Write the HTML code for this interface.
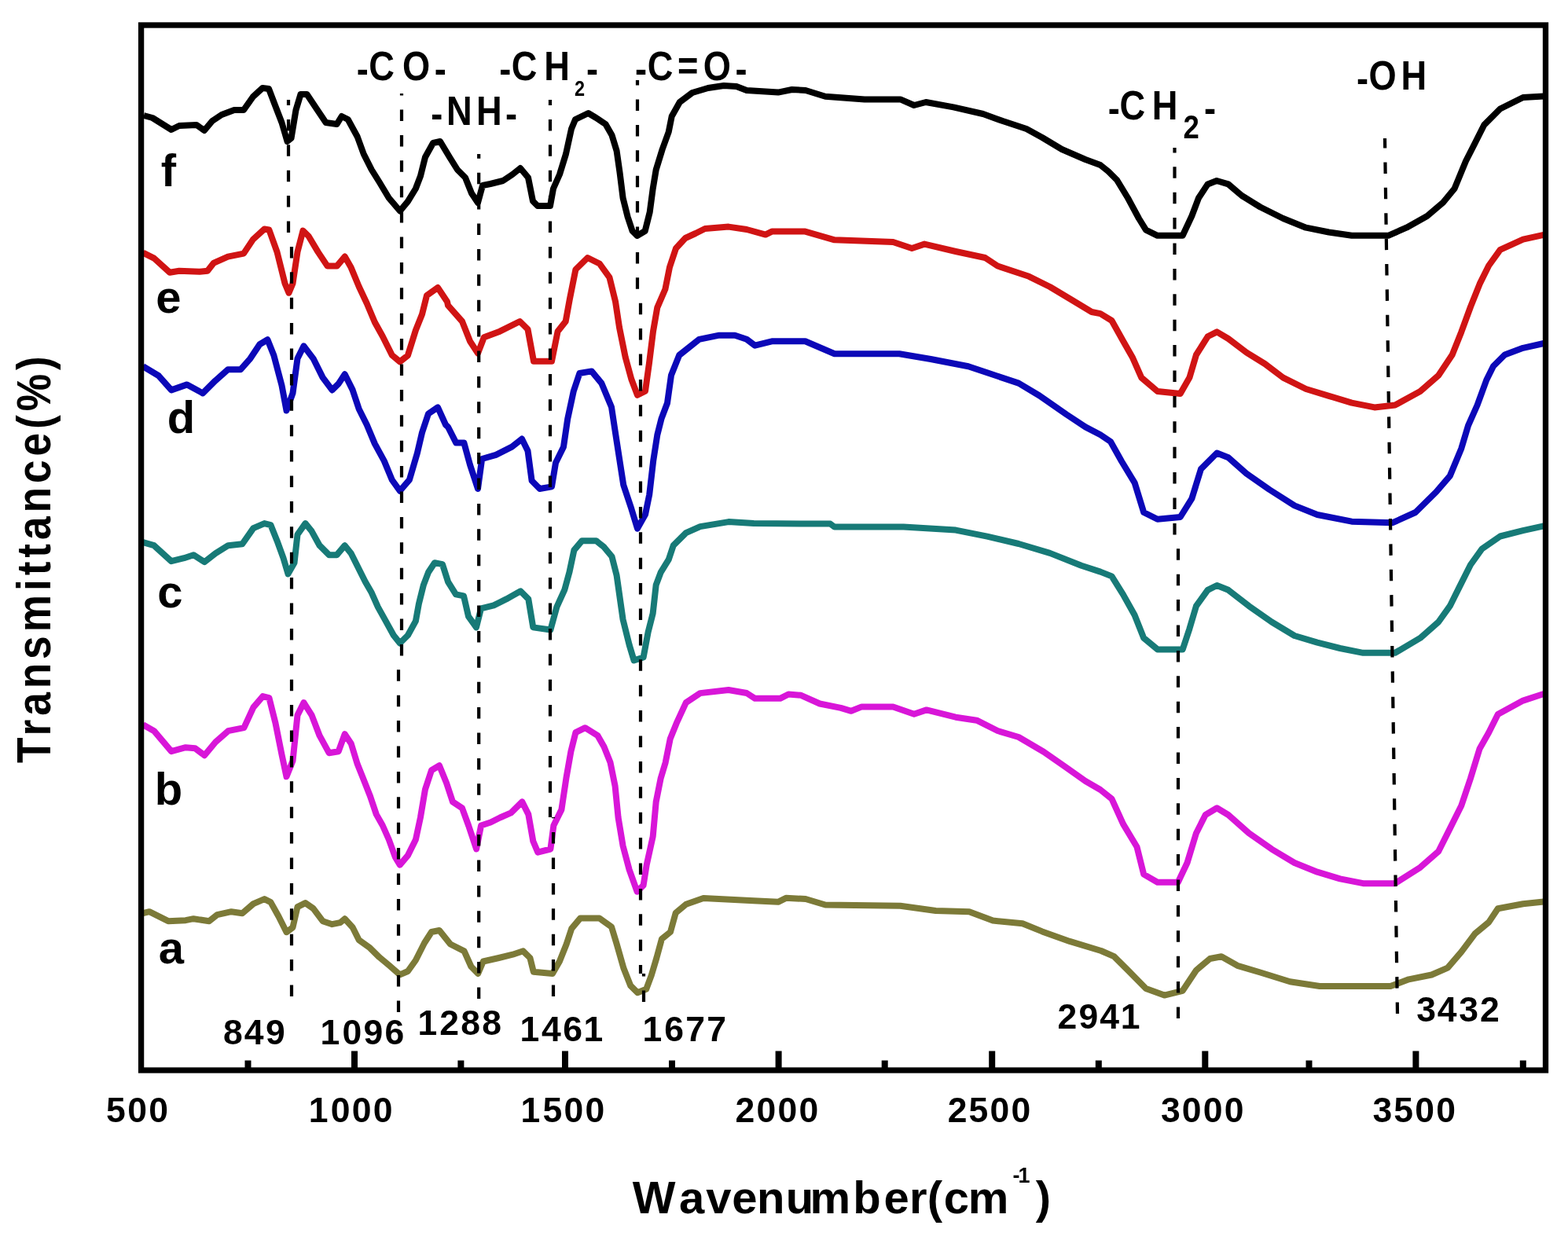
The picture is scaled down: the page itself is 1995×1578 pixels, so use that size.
<!DOCTYPE html>
<html><head><meta charset="utf-8"><title>FTIR spectra</title>
<style>html,body{margin:0;padding:0;background:#fff;overflow:hidden;}svg{display:block;}</style>
</head><body>
<svg width="1995" height="1578" viewBox="0 0 1995 1578">
<rect width="1995" height="1578" fill="#ffffff"/>
<g fill="none" stroke-width="8" stroke-linejoin="round" stroke-linecap="butt">
<polyline stroke="#000000" points="183,147 194,150 218,165 228,160 250,159 260,166 270,154 282,146 298,140 310,140 322,123 334,112 342,113 350,134 358.5,156 365.5,180 370.5,176 376.5,140 382.5,120 390.5,120 402.5,138 414.6,156 428.6,158 434.7,148 442.7,152 454.7,174 462.7,196 472.8,216 482.8,232 494.8,252 508.9,268.5 518.9,256.4 528.9,240 535,224 541,200 551,182 560,180 572,200 582,216 592,226 600,246 608,258 614,236 624,234 640,230 652,222 662,214 672,226 678,256 684,262 700,262 704,240 712,222 720,196 727,164 732,152 748.5,144 758.5,150 770.5,158 778.5,172 784.6,192 788.6,220 792.6,252 798.6,276 804.6,294 810.6,300 820.7,294 826.7,270 830.7,240 834.7,216 842.7,190 850.7,168 854.7,148 864.8,130 880.8,118 900.9,112 920.9,109 937,110 950,115 990,117.6 1007.6,114 1025,115 1050,122.7 1100,126.4 1145.5,126.4 1163,134 1178,130 1213,136.4 1250.8,145 1275.8,154 1306,164 1326,175 1351,190 1381,203 1400,210 1410,218 1421,229 1435,252 1449,278 1458,292.6 1472.7,299.8 1504.7,299.8 1516.3,275 1525,252 1536.6,234.4 1548,230 1562.8,234.4 1580,249 1603.5,263.5 1632.6,278 1661.6,289.7 1690.7,295.5 1719.8,299.8 1766.3,299.8 1789.5,289.7 1815.7,275 1836,257.7 1850.6,240 1865,205 1876.7,182 1888.4,158.8 1908.7,138.5 1937.8,124 1964,122.5"/>
<polyline stroke="#d01414" points="182,321.6 196,328.6 216,346.7 228,344.7 254,345.7 264,344.7 272,334.6 290,326.6 310,322.6 322,304.6 336.4,291.5 342.4,292.5 352.5,320.6 362.5,360.7 367.5,372.7 372.5,360.7 378.5,320.6 385.5,293.5 392.6,300.5 404.6,320.6 416.6,338.6 428.6,338.6 438.7,326.6 446.7,340.6 456.7,364.7 466.7,386 476.8,410 486.8,428 498.8,452 508.8,460.3 518.9,452.3 528.9,420.2 537,400 543,376 557,366 569,384 570,388.7 588,409 598,434.3 608,449.6 615.8,429.3 636,421.7 661.4,409 671.5,419 679,459.7 702,459.7 709.6,421.7 719.7,409 724.8,381 732.4,343 747.6,328 762.8,335.5 775.5,353.2 783,383.7 788,416.6 795.7,454.6 803.3,482.5 811,502.8 821,497.7 826,462 831,421.7 836.3,391.3 846.4,368 852,340 860,316 872,303 885,297 897,291 927,288.6 950,292 974,298.6 982,294.6 1024.5,294.6 1061.8,305.3 1136.3,308 1160.2,316 1176.2,310.6 1216,320 1253.4,328 1269.3,338.5 1309.2,351.8 1335.8,365 1362.5,381 1389,397 1400,399.2 1414.5,408 1429,434 1440.7,454.4 1452.3,480.6 1472.7,498 1501.7,501 1513.4,480.6 1522,451.5 1536.6,428.3 1548.3,422.4 1562.8,431 1586,448.6 1609.3,463 1632.6,480.6 1661.6,495 1690.7,503.8 1719.8,512.6 1748.8,518.4 1775,515.5 1807,498 1830.2,477.7 1847.7,451.5 1859.3,422.4 1871,390.5 1882.6,361.4 1894.2,338 1908.7,317.8 1937.8,304.7 1964,298.9"/>
<polyline stroke="#0c08b8" points="182,466.3 202,478.3 218,496.4 238,489.4 258,500.4 274,484.4 290,470.3 306,470.3 318.4,456.3 330.4,438.2 340.4,432.2 348.4,452.3 358.5,490.4 364.5,522.5 372.5,500.4 378.5,456.3 386.5,440.3 398.6,456.3 410.6,480.4 422.6,496.4 430.7,488.4 438.7,476.3 448.7,496.4 456.7,520.5 466.7,540.5 476.8,564.6 488.8,586.6 498.8,610.7 508.8,624.7 520.9,610.7 530.9,576.6 537,550.5 545,526.5 557,518.4 567,540.5 570,543.3 580.3,563.6 590.4,563.6 598,591.5 608,622 613.2,584 631,578.8 651.3,568.7 664,558.6 671.5,573.8 676.6,611.8 686.7,622 702,619.4 707,589 717,568.7 722.2,533.2 729.8,497.7 737.4,475 752.7,472.4 765.3,487.6 778,518 783,551 788.1,584 793.2,616.9 803.3,647.3 811,672.6 821,654.9 826.2,629.5 831.2,586.4 836.3,553.5 841.4,533.2 849,513 854,477.4 864.2,452 889.5,431.8 915,426.7 935,426.7 950,431.7 960.6,439.7 982,434.3 1024.5,434.3 1061.8,450.3 1144.3,450.3 1184.2,457 1232,466.3 1256,474.3 1296,487.6 1322.5,503.5 1357,527.5 1381,543.4 1400,553.3 1413,562 1427,587 1443.6,614.3 1455.2,652 1472.7,660.8 1501.7,658 1516.3,634.7 1528,596.9 1548.3,576.5 1562.8,582.3 1586,602.7 1615,623 1647,643.4 1676,655 1719.8,663.7 1772,665.2 1801,652 1827.3,626 1844.8,605.6 1859.3,570.7 1868,541.6 1879.6,515.5 1891.3,483.5 1900,466 1914.5,451.5 1937.8,442.8 1964,437"/>
<polyline stroke="#177a77" points="182,690.2 196,694.2 218,714.2 234.2,710.2 246.2,706.2 260.2,715.2 274.3,704.2 290.3,694.2 308.3,692.2 322.4,672.1 336.4,666.1 344.4,668.1 352.5,688.2 360.5,710.2 366.5,730.3 374.5,716.2 378.5,680.2 388.5,666.1 396.6,676.1 406.6,694.2 418.6,706.2 428.6,706.2 438.7,694.2 446.7,704.2 456.7,724.3 464.7,740.3 472.8,754.3 480.8,772.4 490.8,790.4 500.8,808.5 508.8,818.5 518.9,808.5 528.9,790.4 532.9,768.4 538.9,744.3 545,728.3 553,716.2 563,718.2 570,740.3 580,756.3 590,758.3 596,784.4 606,798.4 612,774.4 628.2,770.4 644.2,762.4 662.3,752.3 672.3,762.4 678.3,798.4 700.4,801.5 708.4,772.4 718.4,750.3 724.4,728.3 730.4,700.2 740.5,688.2 758.5,688.2 768.5,696.2 778.5,708.2 784.6,732.3 788.6,760.4 792.6,788.4 800.6,820.5 806.6,840.5 818.6,836.5 824.6,804.5 830.7,780.4 834.7,744.3 840.7,728.3 850.7,712.2 856.7,694.2 872.8,678.1 890.8,670.1 926.9,664.1 959,666.1 1056.4,666.6 1061.8,670.6 1149.6,670.6 1216,674.6 1256,682.6 1296,692 1335.8,703.9 1375.8,719.8 1400,727.6 1414.5,733.4 1429,756.6 1443.6,782.8 1455.2,811.9 1472.7,826.4 1504.7,826.4 1513.4,800.2 1522,771.2 1536.6,750.8 1548.3,745 1562.8,750.8 1589,771.2 1618,791.5 1647,809 1676,817.7 1705,825 1734.3,830.8 1775,830.8 1807,811.9 1830.2,791.5 1844.8,771.2 1856.4,747.9 1871,718.8 1885.5,698.5 1908.7,682.5 1937.8,675.2 1964,669.4"/>
<polyline stroke="#d816d8" points="182,922.2 196,930.2 218,956.2 236.2,951.2 248.2,952.2 260.2,961.3 274.3,944.2 290.3,930.2 310.4,926.2 322.4,900.1 334.4,886.1 342.4,888.1 350.5,920.2 358.5,960.3 364.5,988.3 372.5,968.3 378.5,910.1 386.5,894.1 396.6,910.1 406.6,936.2 418.6,958.2 430.7,956.2 438.7,934.2 446.7,946.2 454.7,972.3 462.7,992.3 470.7,1012.4 478.8,1036.4 486.8,1050.5 494.8,1068.5 502.8,1090.6 508.8,1100.6 518.9,1088.6 528.9,1068.5 534.9,1040.5 541,1004.4 549,980.3 559,974.3 568,996.3 576,1020.4 588,1028.4 596.1,1050.5 606.1,1080.5 612.1,1050.5 624.2,1046.5 636.2,1040.5 650.2,1034.4 664.3,1020.4 672.3,1036.4 678.3,1070.5 684.3,1084.6 700.4,1080.5 704.4,1050.5 714.4,1030.4 720.4,990.3 726.4,956.2 732.4,932.2 744.5,926.2 760.5,936.2 768.5,950.2 776.5,970.3 782.6,1000.4 786.6,1040.5 792.6,1076.5 800.6,1106.6 810.6,1134.7 818.6,1126.7 822.7,1100.6 830.7,1064.5 834.7,1020.4 840.7,990.3 846.7,970.3 852.7,940.2 860.8,920.2 872.8,894.1 890.8,882.1 926.9,878 950,882 960.6,888.8 992.6,888.8 1003.2,883.5 1019.2,884.8 1043,895.5 1069.7,900.8 1083,904.8 1096.4,899.4 1136.3,899.4 1163,908.8 1178.8,903.4 1216,912.7 1242.7,916.7 1269.3,930 1296,938 1327.9,956.7 1354.5,975.3 1381,994 1400,1005 1414.5,1016.6 1429,1048.6 1446.5,1077.7 1455.2,1112.6 1472.7,1122.7 1498.8,1122.7 1510.5,1098 1522,1060.2 1533.7,1037 1548.3,1028.3 1562.8,1037 1589,1060.2 1618,1080.6 1647,1098 1676,1109.7 1705,1118.4 1734.3,1124.2 1775,1124.2 1807,1103.8 1830.2,1083.5 1844.8,1054.4 1859.3,1025.3 1871,990.5 1882.6,952.7 1894.2,932.3 1905.8,909 1937.8,891.6 1964,883"/>
<polyline stroke="#7c7a38" points="182,1162.2 190,1160.2 202,1166.2 214,1172.2 236.2,1171.2 246.2,1169.2 266.2,1172.2 276.3,1164.2 294.3,1160.2 308.3,1162.2 322.4,1150.1 336.4,1144.1 344.4,1148.1 354.5,1166.2 364.5,1186.2 372.5,1180.2 378.5,1154.1 388.5,1149.1 398.6,1156.1 410.6,1172.2 422.6,1176.2 432.7,1174.2 438.7,1169.2 448.7,1180.2 456.7,1196.2 470.7,1206.3 482.8,1218.3 494.8,1228.3 508.8,1240.4 518.9,1236 528.9,1222 540,1200 549,1186 559,1184 573,1201.5 590.6,1210.3 599.4,1230 608.2,1239 614.8,1223.5 634.7,1219 652.3,1214.7 665.6,1210.3 674.4,1219 678.8,1236.7 703,1239 711.9,1223.5 720.7,1201.5 727.3,1181.6 738.4,1168.4 762.6,1168.4 778,1179.4 784.7,1201.5 793.5,1232.3 802.3,1254.4 811.1,1263.2 822.2,1258.8 828.8,1241.2 835.4,1219 842,1194.8 853,1186 859.7,1161.8 872.9,1150.7 895,1143 958.9,1146.3 990,1147.8 1000,1142.8 1025,1144 1050,1151.5 1145.5,1152.8 1190.6,1159 1233.2,1160.3 1263.3,1171.6 1301,1175.3 1326,1185.4 1361,1197.9 1401,1210 1417.4,1217.2 1435,1234.7 1458,1258 1481.4,1266.6 1504.7,1260.8 1522,1234.7 1539.5,1220 1554,1217.2 1574.4,1228.8 1603.5,1237.5 1641.3,1249.2 1679,1255 1769.2,1255 1792.4,1246.3 1821.5,1240.5 1841.9,1231.7 1859.3,1211.4 1876.7,1188.1 1894.2,1173.6 1905.8,1156.2 1937.8,1150.3 1964,1147.4"/>
</g>
<g stroke="#000" stroke-width="4.2" stroke-dasharray="14.5 17.9" fill="none">
<line x1="367" y1="305" x2="367" y2="127" stroke-dashoffset="963"/>
<line x1="371" y1="1268" x2="371" y2="305" stroke-dashoffset="0"/>
<line x1="511" y1="845" x2="511" y2="119" stroke-dashoffset="443"/>
<line x1="507" y1="1288" x2="507" y2="845" stroke-dashoffset="0"/>
<line x1="609.2" y1="1271" x2="609.2" y2="196" stroke-dashoffset="0"/>
<line x1="700" y1="1040" x2="700" y2="127" stroke-dashoffset="228"/>
<line x1="704" y1="1268" x2="704" y2="1040" stroke-dashoffset="0"/>
<line x1="811" y1="368" x2="811" y2="102" stroke-dashoffset="907"/>
<line x1="815" y1="1239" x2="815" y2="368" stroke-dashoffset="36"/>
<line x1="819" y1="1275" x2="819" y2="1239" stroke-dashoffset="0"/>
<line x1="1494.5" y1="690" x2="1494.5" y2="188" stroke-dashoffset="606"/>
<line x1="1499" y1="1296" x2="1499" y2="690" stroke-dashoffset="0"/>
<line x1="1778" y1="1290" x2="1762" y2="176" stroke-dashoffset="0"/>
</g>
<rect x="179.6" y="32" width="1786.9" height="1330" fill="none" stroke="#000" stroke-width="7.3"/>
<g fill="#000">
<rect x="447.0" y="1337.5" width="8" height="22"/>
<rect x="715.0" y="1337.5" width="8" height="22"/>
<rect x="986.6" y="1337.5" width="8" height="22"/>
<rect x="1258.2" y="1337.5" width="8" height="22"/>
<rect x="1529.3" y="1337.5" width="8" height="22"/>
<rect x="1797.4" y="1337.5" width="8" height="22"/>
<rect x="311.5" y="1349.5" width="8" height="10"/>
<rect x="582.4" y="1349.5" width="8" height="10"/>
<rect x="851.0" y="1349.5" width="8" height="10"/>
<rect x="1121.7" y="1349.5" width="8" height="10"/>
<rect x="1393.8" y="1349.5" width="8" height="10"/>
<rect x="1661.5" y="1349.5" width="8" height="10"/>
<rect x="1933.8" y="1349.5" width="8" height="10"/>
</g>
<g font-family="'Liberation Sans', Arial, sans-serif" font-weight="bold" font-size="44.5" fill="#000">
<text x="135.1 162.2 189.2" y="1428">500</text>
<text x="392.8 420.7 447.7 474.7" y="1428">1000</text>
<text x="662.6 690.4 717.5 744.5" y="1428">1500</text>
<text x="935.4 962.4 989.4 1016.4" y="1428">2000</text>
<text x="1205.7 1232.5 1259.6 1286.6" y="1428">2500</text>
<text x="1476.9 1503.7 1530.7 1557.7" y="1428">3000</text>
<text x="1746.5 1773.2 1800.3 1827.3" y="1428">3500</text>
</g>
<g font-family="'Liberation Sans', Arial, sans-serif" font-weight="bold" font-size="44.5" fill="#000">
<text x="284.0 310.8 338.1" y="1329">849</text>
<text x="407.6 435.4 462.4 489.4" y="1329">1096</text>
<text x="531.4 559.3 586.2 613.2" y="1317.2">1288</text>
<text x="661.5 689.1 716.3 742.5" y="1325">1461</text>
<text x="817.5 845.3 872.3 899.3" y="1325">1677</text>
<text x="1345.6 1372.6 1399.3 1425.7" y="1308.6">2941</text>
<text x="1802.2 1828.7 1856.2 1883.0" y="1299.6">3432</text>
</g>
<g font-family="'Liberation Sans', Arial, sans-serif" font-weight="bold" font-size="58" text-anchor="middle" fill="#000">
<text x="214.5" y="237.4">f</text>
<text x="214.5" y="398">e</text>
<text x="230.5" y="550.5">d</text>
<text x="216.5" y="773.4">c</text>
<text x="214.5" y="1024.4">b</text>
<text x="218" y="1226.3">a</text>
</g>
<g font-family="'Liberation Sans', Arial, sans-serif" fill="#000">
<text font-size="52" transform="scale(0.87,1)"><tspan x="521.6 539.5 588.4 635.3" y="105.1 101.8 101.8 105.1" font-weight="bold">-CO-</tspan></text>
<text font-size="52" transform="scale(0.87,1)"><tspan x="630.3 653.0 696.6 739.1" y="162.1 158.8 158.8 162.1" font-weight="bold">-NH-</tspan></text>
<text font-size="52" transform="scale(0.87,1)"><tspan x="730.2 748.1 795.6" y="105.0 101.7 101.7" font-weight="bold">-CH</tspan><tspan x="840.2" y="122.2" font-weight="bold" font-size="27">2</tspan><tspan x="857.6" y="105.0" font-weight="bold">-</tspan></text>
<text font-size="52" transform="scale(0.87,1)"><tspan x="928.7 946.7 990.9 1028.5 1075.3" y="105.0 101.7 100.7 101.7 105.0" font-weight="bold">-C=O-</tspan></text>
<text font-size="52" transform="scale(0.87,1)"><tspan x="1620.4 1637.5 1684.7" y="154.9 151.6 151.6" font-weight="bold">-CH</tspan><tspan x="1730.5" y="176.0" font-weight="bold" font-size="42">2</tspan><tspan x="1760.9" y="154.9" font-weight="bold">-</tspan></text>
<text font-size="52" transform="scale(0.87,1)"><tspan x="1983.9 2001.6 2048.9" y="117.1 113.8 113.8" font-weight="bold">-OH</tspan></text>
</g>
<g font-family="'Liberation Sans', Arial, sans-serif" font-weight="bold" fill="#000">
<text font-size="58"><tspan x="804.8 864.0 898.2 931.2 962.9 999.7 1030.5 1085.2 1124.4 1157.1 1179.7 1200.8 1231.8" y="1543.5 1543.5 1543.5 1543.5 1543.5 1543.5 1543.5 1543.5 1543.5 1543.5 1543.5 1543.5 1543.5" font-weight="bold">Wavenumber(cm</tspan><tspan x="1288.5 1295.5" y="1505.0 1505.0" font-weight="bold" font-size="27">-1</tspan><tspan x="1317.8" y="1543.5" font-weight="bold">)</tspan></text>
<text transform="translate(64.2,971) rotate(-90) scale(0.86,1)" x="0" y="0" font-size="62" textLength="602" lengthAdjust="spacing">Transmittance(%)</text>
</g>
</svg>
</body></html>
